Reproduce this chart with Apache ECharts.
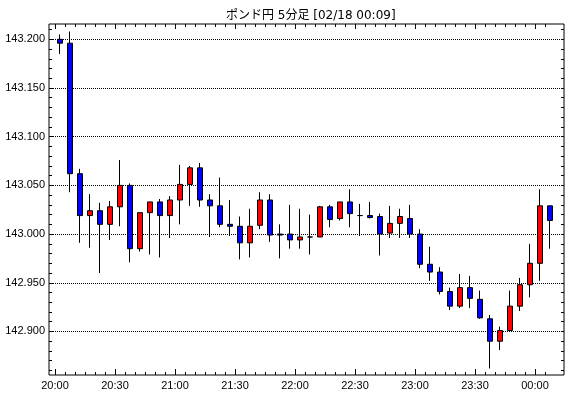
<!DOCTYPE html>
<html>
<head>
<meta charset="utf-8">
<script src="https://cdn.jsdelivr.net/npm/echarts@6/dist/echarts.min.js"></script>
<style>
  html, body { margin: 0; padding: 0; background: #fff; }
  #chart { width: 570px; height: 398px; }
</style>
</head>
<body>
<div id="chart"></div>
<script>
  // 5分足 20:00 - 00:05
  const times = ['20:00','20:05','20:10','20:15','20:20','20:25','20:30','20:35','20:40','20:45',
                 '20:50','20:55','21:00','21:05','21:10','21:15','21:20','21:25','21:30','21:35',
                 '21:40','21:45','21:50','21:55','22:00','22:05','22:10','22:15','22:20','22:25',
                 '22:30','22:35','22:40','22:45','22:50','22:55','23:00','23:05','23:10','23:15',
                 '23:20','23:25','23:30','23:35','23:40','23:45','23:50','23:55','00:00','00:05'];
  const opens  = [143.200,143.196,143.062,143.019,143.024,143.010,143.028,143.050,142.985,143.022,
                  143.033,143.019,143.035,143.051,143.068,143.035,143.029,143.010,143.008,142.991,
                  143.009,143.035,143.000,143.000,142.994,142.997,142.997,143.028,143.016,143.033,
                  143.019,143.019,143.018,143.001,143.011,143.016,143.000,142.969,142.961,142.941,
                  142.926,142.945,142.933,142.913,142.890,142.901,142.926,142.948,142.970,143.029];
  const closes = [143.196,143.062,143.019,143.024,143.010,143.028,143.050,142.985,143.022,143.033,
                  143.019,143.035,143.051,143.068,143.035,143.029,143.010,143.008,142.991,143.008,
                  143.035,142.999,142.999,142.994,142.997,142.997,143.028,143.015,143.033,143.021,
                  143.019,143.017,143.000,143.011,143.018,143.000,142.969,142.961,142.941,142.926,
                  142.945,142.934,142.914,142.890,142.901,142.926,142.948,142.970,143.029,143.014];
  const lows   = [143.185,143.043,142.991,142.986,142.960,142.994,143.008,142.971,142.982,142.979,
                  142.976,142.996,143.010,143.029,143.028,142.997,143.007,142.998,142.974,142.976,
                  143.005,142.992,142.975,142.985,142.985,142.979,142.997,143.007,143.014,143.007,
                  142.998,143.016,142.978,142.996,142.996,142.996,142.965,142.952,142.938,142.922,
                  142.924,142.924,142.913,142.862,142.881,142.901,142.921,142.935,142.952,142.985];
  const highs  = [143.205,143.208,143.067,143.041,143.032,143.034,143.076,143.052,143.022,143.033,
                  143.036,143.039,143.071,143.070,143.073,143.041,143.058,143.035,143.018,143.026,
                  143.043,143.041,143.010,143.030,143.026,143.020,143.029,143.030,143.033,143.046,
                  143.031,143.033,143.021,143.029,143.026,143.030,143.005,142.987,142.966,142.945,
                  142.959,142.957,142.942,142.917,142.905,142.942,142.955,142.990,143.046,143.029];
  const xTickLabels = ['20:00','20:30','21:00','21:30','22:00','22:30','23:00','23:30','00:00'];

  const FONT = "'Liberation Sans', sans-serif";
  const frame = { left: 49, top: 24, width: 515, height: 351 };
  const yMin = 142.8553, yMax = 143.2157;
  const px = (v) => frame.top + (yMax - v) / (yMax - yMin) * frame.height;

  const candles = times.map((t, i) => [opens[i], closes[i], lows[i], highs[i]]);

  const hidden = (gridIndex) => ({ type: 'value', gridIndex: gridIndex, show: false, min: 0, max: 1 });
  const tickOnly = (len) => ({
    axisLine: { show: false },
    axisTick: { show: true, inside: true, length: len, lineStyle: { color: '#000', width: 1 } },
    axisLabel: { show: false },
    splitLine: { show: false }
  });

  const myChart = echarts.init(document.getElementById('chart'));
  const option = {
    animation: false,
    backgroundColor: '#fff',
    title: {
      text: 'ポンド円 5分足 [02/18 00:09]',
      left: 221,
      top: 5,
      textStyle: { fontFamily: "'DejaVu Sans', 'Noto Sans CJK JP', sans-serif", fontSize: 12, fontWeight: 'normal', color: '#000' }
    },
    grid: [
      // 0: 枠
      { left: frame.left, top: frame.top, width: frame.width, height: frame.height, show: true, borderColor: '#000', borderWidth: 1, backgroundColor: 'transparent' },
      // 1: ローソク足
      { left: 55, top: frame.top, width: 500, height: frame.height },
      // 2: 目盛ラベル + 点線
      { left: frame.left, width: frame.width, top: px(143.2), height: px(142.9) - px(143.2) },
      // 3: y 小目盛
      { left: frame.left, width: frame.width, top: px(143.21), height: px(142.86) - px(143.21) },
      // 4: x 小目盛
      { left: 55, width: 490, top: frame.top, height: frame.height },
      // 5: x 大目盛 + ラベル
      { left: 55, width: 480, top: frame.top, height: frame.height }
    ],
    xAxis: [
      { type: 'category', gridIndex: 1, data: times, show: false, boundaryGap: true },
      hidden(0),
      hidden(2),
      hidden(3),
      Object.assign({ type: 'value', gridIndex: 4, position: 'bottom', min: 0, max: 245, interval: 5 }, tickOnly(3)),
      Object.assign({ type: 'value', gridIndex: 4, position: 'top', min: 0, max: 245, interval: 5 }, tickOnly(3)),
      Object.assign({ type: 'value', gridIndex: 5, position: 'bottom', min: 0, max: 240, interval: 30 }, tickOnly(6), {
        axisLabel: {
          show: true, margin: 5, color: '#000', fontFamily: FONT, fontSize: 11,
          formatter: (v) => xTickLabels[Math.round(v / 30)] || ''
        }
      }),
      Object.assign({ type: 'value', gridIndex: 5, position: 'top', min: 0, max: 240, interval: 30 }, tickOnly(5))
    ],
    yAxis: [
      { type: 'value', gridIndex: 1, show: false, min: yMin, max: yMax, scale: true },
      hidden(0),
      Object.assign({ type: 'value', gridIndex: 2, position: 'left', min: 142.9, max: 143.2, interval: 0.05 }, tickOnly(4), {
        axisLabel: {
          show: true, margin: 4, color: '#000', fontFamily: FONT, fontSize: 11,
          formatter: (v) => v.toFixed(3)
        },
        splitLine: { show: true, lineStyle: { color: '#000', width: 1, type: 'dotted' } }
      }),
      Object.assign({ type: 'value', gridIndex: 3, position: 'left', min: 142.86, max: 143.21, interval: 0.01 }, tickOnly(3)),
      Object.assign({ type: 'value', gridIndex: 3, position: 'right', min: 142.86, max: 143.21, interval: 0.01 }, tickOnly(3)),
      hidden(4),
      hidden(5)
    ],
    series: [
      {
        name: 'ポンド円',
        type: 'candlestick',
        xAxisIndex: 0,
        yAxisIndex: 0,
        barWidth: 5,
        data: candles,
        itemStyle: {
          color: '#ff0000',
          color0: '#0000ff',
          borderColor: '#000',
          borderColor0: '#000',
          borderColorDoji: '#000',
          borderWidth: 1
        }
      }
    ]
  };
  myChart.setOption(option);
</script>
</body>
</html>
